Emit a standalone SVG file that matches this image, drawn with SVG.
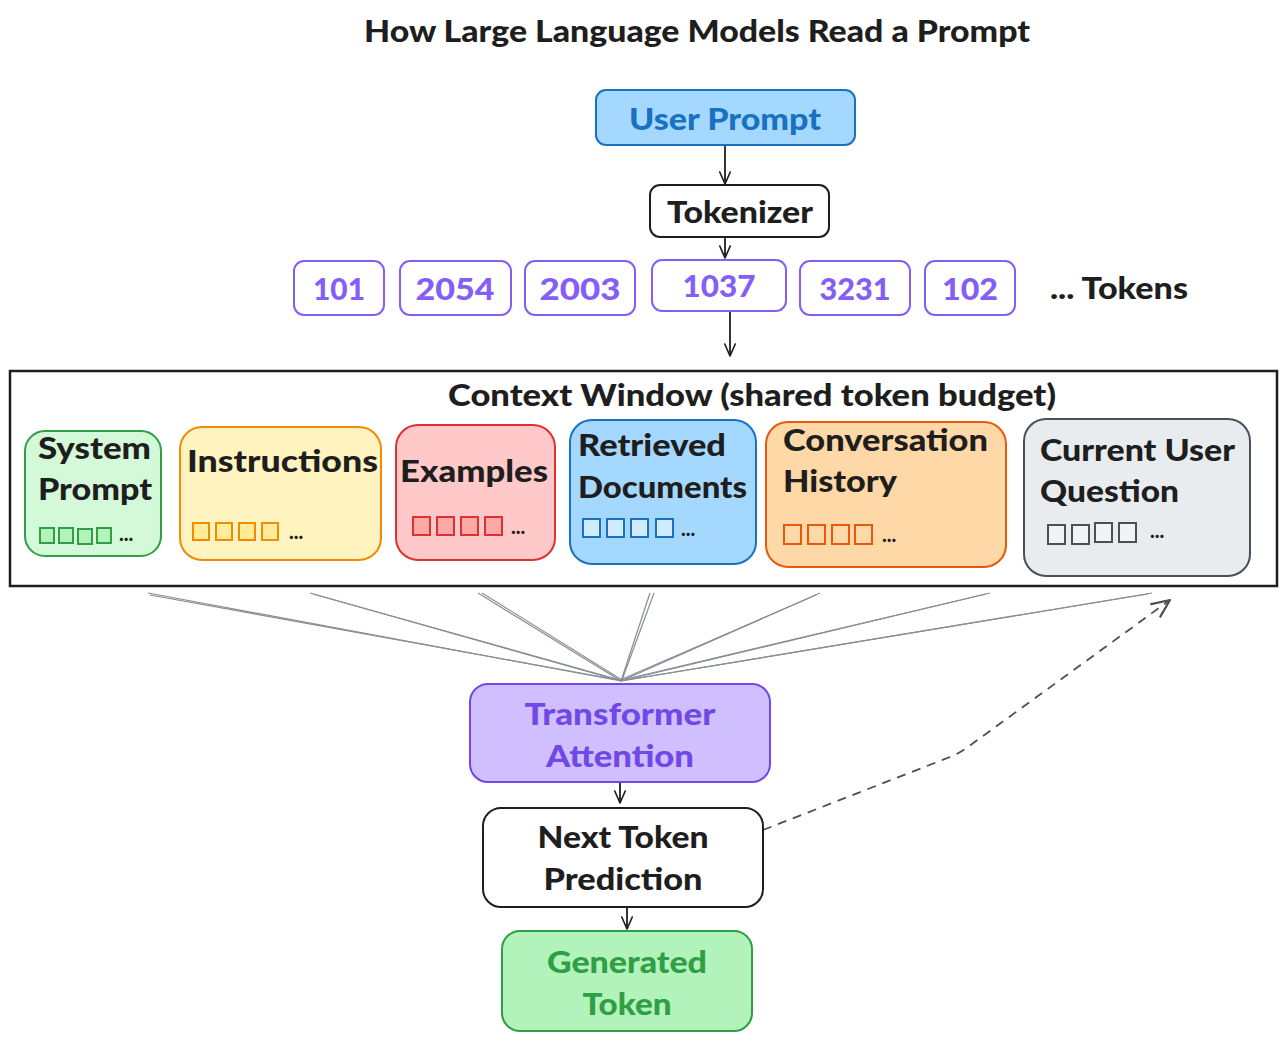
<svg xmlns="http://www.w3.org/2000/svg" width="1286" height="1041" viewBox="0 0 1286 1041">
<defs>
<style>
text{font-family:"Lato","Liberation Sans","DejaVu Sans",sans-serif;font-weight:900;fill:#1e1e1e}
.lbl{font-size:31px}
.tok{font-size:31px;fill:#845ef7;text-anchor:middle}
.box{stroke-width:2}
.sq{stroke-width:2}
.dots{font-size:20px;font-weight:900}
.fan{stroke:#868e96;stroke-width:1.2;fill:none}
.arr{stroke:#1e1e1e;stroke-width:1.8;fill:none}
</style>
<marker id="ah" viewBox="0 0 20 20" refX="18" refY="10" markerWidth="15" markerHeight="15" orient="auto" markerUnits="userSpaceOnUse">
<path d="M2,3 L18,10 L2,17" fill="none" stroke="#1e1e1e" stroke-width="2.2" stroke-linecap="round" stroke-linejoin="round"/>
</marker>
<marker id="ahd" viewBox="0 0 20 20" refX="18" refY="10" markerWidth="22" markerHeight="22" orient="auto" markerUnits="userSpaceOnUse">
<path d="M2,3 L18,10 L2,17" fill="none" stroke="#495057" stroke-width="2" stroke-linecap="round" stroke-linejoin="round"/>
</marker>
</defs>
<rect width="1286" height="1041" fill="#ffffff"/>
<text x="697" y="42" font-size="30" text-anchor="middle" textLength="666" lengthAdjust="spacingAndGlyphs">How Large Language Models Read a Prompt</text>

<g id="connectors">
<line class="arr" x1="725" y1="146" x2="725" y2="184" marker-end="url(#ah)"/>
<line class="arr" x1="725" y1="238" x2="725" y2="258" marker-end="url(#ah)"/>
<line class="arr" x1="730" y1="312" x2="730" y2="356" marker-end="url(#ah)"/>
<line class="arr" x1="620" y1="783" x2="620" y2="803" marker-end="url(#ah)"/>
<line class="arr" x1="627" y1="908" x2="627" y2="929" marker-end="url(#ah)"/>
<g class="fan">
<path d="M148,593 L621,681"/><path d="M150,595 L619,680"/>
<path d="M310,593 L621,681"/><path d="M313,594 L620,680"/>
<path d="M478,593 L621,681"/><path d="M482,593 L622,680"/>
<path d="M650,593 L621,681"/><path d="M654,593 L622,680"/>
<path d="M820,593 L621,681"/><path d="M816,595 L620,680"/>
<path d="M990,593 L621,681"/><path d="M986,594 L622,680"/>
<path d="M1152,593 L621,681"/><path d="M1148,594 L620,681"/>
</g>
<path d="M763,830 L950,757 Q962,752 972,744 L1170,600" fill="none" stroke="#495057" stroke-width="1.8" stroke-dasharray="9 7" marker-end="url(#ahd)"/>
</g>

<g id="user-prompt">
<rect class="box" x="596" y="90" width="259" height="55" rx="10" fill="#a5d8ff" stroke="#1971c2"/>
<text x="725" y="130" class="lbl" text-anchor="middle" style="fill:#1971c2" textLength="192" lengthAdjust="spacingAndGlyphs">User Prompt</text>
</g>
<g id="tokenizer">
<rect class="box" x="650" y="185" width="179" height="52" rx="10" fill="#ffffff" stroke="#1e1e1e"/>
<text x="740" y="223" class="lbl" text-anchor="middle" textLength="146" lengthAdjust="spacingAndGlyphs">Tokenizer</text>
</g>

<g id="tok-101"><rect class="box" x="294" y="261" width="90" height="54" rx="10" fill="#ffffff" stroke="#845ef7"/><text class="tok" x="339" y="300" textLength="52" lengthAdjust="spacingAndGlyphs">101</text></g>
<g id="tok-2054"><rect class="box" x="400" y="261" width="111" height="54" rx="10" fill="#ffffff" stroke="#845ef7"/><text class="tok" x="455" y="300" textLength="79" lengthAdjust="spacingAndGlyphs">2054</text></g>
<g id="tok-2003"><rect class="box" x="525" y="261" width="110" height="54" rx="10" fill="#ffffff" stroke="#845ef7"/><text class="tok" x="580" y="300" textLength="81" lengthAdjust="spacingAndGlyphs">2003</text></g>
<g id="tok-1037"><rect class="box" x="652" y="260" width="134" height="51" rx="10" fill="#ffffff" stroke="#845ef7"/><text class="tok" x="719" y="297" textLength="73" lengthAdjust="spacingAndGlyphs">1037</text></g>
<g id="tok-3231"><rect class="box" x="800" y="261" width="110" height="54" rx="10" fill="#ffffff" stroke="#845ef7"/><text class="tok" x="855" y="300" textLength="71" lengthAdjust="spacingAndGlyphs">3231</text></g>
<g id="tok-102"><rect class="box" x="925" y="261" width="90" height="54" rx="10" fill="#ffffff" stroke="#845ef7"/><text class="tok" x="970" y="300" textLength="56" lengthAdjust="spacingAndGlyphs">102</text></g>
<g id="tokens-label"><text x="1050" y="299" class="lbl" textLength="138" lengthAdjust="spacingAndGlyphs">... Tokens</text></g>

<g id="context-window">
<rect x="10" y="371" width="1267" height="215" fill="#ffffff" stroke="#1e1e1e" stroke-width="2.5"/>
<text x="752" y="406" font-size="30" text-anchor="middle" textLength="608" lengthAdjust="spacingAndGlyphs">Context Window (shared token budget)</text>
</g>

<g id="system-prompt">
<rect class="box" x="25" y="431" width="136" height="125" rx="20" fill="#d3f9d8" stroke="#2f9e44"/>
<text x="38" y="459" class="lbl" textLength="113" lengthAdjust="spacingAndGlyphs">System</text>
<text x="38" y="500" class="lbl" textLength="114" lengthAdjust="spacingAndGlyphs">Prompt</text>
<g class="sq" fill="#b2f2bb" stroke="#2f9e44"><rect x="40" y="528" width="14" height="15"/><rect x="59" y="528" width="14" height="15"/><rect x="78" y="529" width="14" height="15"/><rect x="97" y="528" width="14" height="15"/></g>
<text x="119" y="541" class="dots" font-size="16">...</text>
</g>
<g id="instructions">
<rect class="box" x="180" y="427" width="201" height="133" rx="22" fill="#fff3bf" stroke="#f08c00"/>
<text x="187" y="472" class="lbl" textLength="191" lengthAdjust="spacingAndGlyphs">Instructions</text>
<g class="sq" fill="#ffec99" stroke="#f08c00"><rect x="193" y="523" width="16" height="17"/><rect x="216" y="523" width="16" height="17"/><rect x="239" y="523" width="16" height="17"/><rect x="262" y="523" width="16" height="17"/></g>
<text x="289" y="539" class="dots">...</text>
</g>
<g id="examples">
<rect class="box" x="396" y="425" width="159" height="135" rx="22" fill="#ffc9c9" stroke="#e03131"/>
<text x="400" y="482" class="lbl" textLength="148" lengthAdjust="spacingAndGlyphs">Examples</text>
<g class="sq" fill="#ffa8a8" stroke="#e03131"><rect x="413" y="517" width="17" height="18"/><rect x="437" y="517" width="17" height="18"/><rect x="461" y="517" width="17" height="18"/><rect x="485" y="517" width="17" height="18"/></g>
<text x="511" y="534" class="dots">...</text>
</g>
<g id="retrieved-documents">
<rect class="box" x="570" y="420" width="186" height="144" rx="22" fill="#a5d8ff" stroke="#1971c2"/>
<text x="578" y="456" class="lbl" textLength="148" lengthAdjust="spacingAndGlyphs">Retrieved</text>
<text x="578" y="498" class="lbl" textLength="169" lengthAdjust="spacingAndGlyphs">Documents</text>
<g class="sq" fill="#d0ebff" stroke="#1971c2"><rect x="583" y="519" width="17" height="18"/><rect x="607" y="519" width="17" height="18"/><rect x="631" y="519" width="17" height="18"/><rect x="656" y="519" width="17" height="18"/></g>
<text x="681" y="536" class="dots">...</text>
</g>
<g id="conversation-history">
<rect class="box" x="766" y="422" width="240" height="145" rx="22" fill="#ffd8a8" stroke="#e8590c"/>
<text x="783" y="451" class="lbl" textLength="205" lengthAdjust="spacingAndGlyphs">Conversation</text>
<text x="783" y="492" class="lbl" textLength="114" lengthAdjust="spacingAndGlyphs">History</text>
<g class="sq" fill="#ffd8a8" stroke="#e8590c"><rect x="784" y="525" width="17" height="19"/><rect x="808" y="525" width="17" height="19"/><rect x="832" y="525" width="17" height="19"/><rect x="855" y="525" width="17" height="19"/></g>
<text x="882" y="542" class="dots">...</text>
</g>
<g id="current-user-question">
<rect class="box" x="1024" y="419" width="226" height="157" rx="22" fill="#e9ecef" stroke="#495057"/>
<text x="1040" y="461" class="lbl" textLength="195" lengthAdjust="spacingAndGlyphs">Current User</text>
<text x="1040" y="502" class="lbl" textLength="139" lengthAdjust="spacingAndGlyphs">Question</text>
<g class="sq" fill="#f1f3f5" stroke="#495057"><rect x="1048" y="525" width="17" height="19"/><rect x="1072" y="525" width="17" height="19"/><rect x="1095" y="523" width="17" height="19"/><rect x="1119" y="523" width="17" height="19"/></g>
<text x="1150" y="538" class="dots">...</text>
</g>

<g id="transformer-attention">
<rect class="box" x="470" y="684" width="300" height="98" rx="18" fill="#d0bfff" stroke="#7048e8"/>
<text x="620" y="725" class="lbl" text-anchor="middle" style="fill:#7048e8" textLength="191" lengthAdjust="spacingAndGlyphs">Transformer</text>
<text x="620" y="767" class="lbl" text-anchor="middle" style="fill:#7048e8" textLength="148" lengthAdjust="spacingAndGlyphs">Attention</text>
</g>
<g id="next-token-prediction">
<rect class="box" x="483" y="808" width="280" height="99" rx="18" fill="#ffffff" stroke="#1e1e1e"/>
<text x="623" y="848" class="lbl" text-anchor="middle" textLength="171" lengthAdjust="spacingAndGlyphs">Next Token</text>
<text x="623" y="890" class="lbl" text-anchor="middle" textLength="159" lengthAdjust="spacingAndGlyphs">Prediction</text>
</g>
<g id="generated-token">
<rect class="box" x="502" y="931" width="250" height="100" rx="18" fill="#b2f2bb" stroke="#2f9e44"/>
<text x="627" y="973" class="lbl" text-anchor="middle" style="fill:#2f9e44" textLength="160" lengthAdjust="spacingAndGlyphs">Generated</text>
<text x="627" y="1015" class="lbl" text-anchor="middle" style="fill:#2f9e44" textLength="89" lengthAdjust="spacingAndGlyphs">Token</text>
</g>
</svg>
